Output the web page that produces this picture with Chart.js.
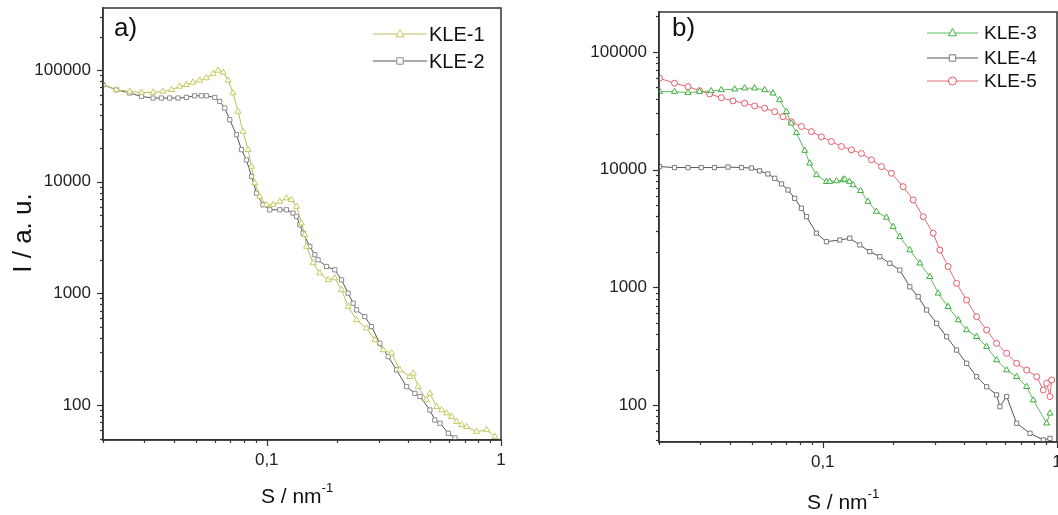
<!DOCTYPE html>
<html>
<head>
<meta charset="utf-8">
<script src="https://cdn.jsdelivr.net/npm/chart.js@4.4.1/dist/chart.umd.min.js"></script>
<style>
html, body { margin: 0; padding: 0; background: #fff; overflow: hidden; width: 1058px; height: 515px; }
#chartA { position: absolute; left: 0; top: 0; }
#chartB { position: absolute; left: 530px; top: 0; }
</style>
</head>
<body>
<canvas id="chartA" width="525" height="515"></canvas>
<canvas id="chartB" width="545" height="515"></canvas>
<script>
// ---- data: S in nm^-1, I in a.u. ----
const sKLE1 = [0.020,0.0228,0.0260,0.0292,0.0327,0.0360,0.0392,0.0425,0.0454,0.0484,0.0517,0.0552,0.0590,0.0619,0.0651,0.0684,0.0718,0.0754,0.0792,0.0832,0.0861,0.0889,0.0933,0.0997,0.1064,0.1137,0.1213,0.1275,0.1340,0.1406,0.1453,0.1478,0.1578,0.1684,0.1828,0.1953,0.2086,0.2225,0.2416,0.2667,0.2894,0.314,0.341,0.370,0.408,0.422,0.443,0.481,0.497,0.531,0.558,0.586,0.615,0.647,0.679,0.713,0.787,0.869,0.942];
const iKLE1 = [74100,66800,64500,63200,63200,64500,66800,71600,74100,77800,81100,85100,93100,99500,95500,81100,62500,42700,28200,19400,13700,9730,7380,6220,6220,6650,7140,6900,6000,4260,3350,2630,1870,1520,1320,1370,1075,762,578,487,383,311,291,206,179,192,146,111,127,96.5,90,84.3,78.5,70.8,66.2,63.8,57.6,59.7,52];

const sKLE2 = [0.020,0.0228,0.0260,0.0292,0.0327,0.0355,0.0385,0.0418,0.0454,0.0492,0.0526,0.0552,0.0600,0.0630,0.0662,0.0695,0.0743,0.0780,0.0819,0.0861,0.0904,0.0964,0.1030,0.1137,0.1213,0.1295,0.1340,0.1384,0.1430,0.1527,0.1604,0.1656,0.180,0.1953,0.2086,0.2225,0.2338,0.2416,0.2622,0.280,0.304,0.330,0.358,0.395,0.429,0.451,0.497,0.522,0.549,0.596,0.636];
const iKLE2 = [74100,66800,62500,58200,56300,56300,56300,56300,57000,59000,59000,59000,57000,52500,45800,36000,26400,19400,15700,11200,7920,6220,5610,5610,5610,5240,4890,4120,3470,2630,2220,2000,1740,1625,1320,1004,817,711,619,504,357,271,206,146,127,119,90,73.3,68.5,55.7,50.6];

const sKLE3 = [0.0201,0.0233,0.0266,0.0298,0.0334,0.0369,0.0421,0.0464,0.0512,0.0565,0.0613,0.0655,0.0700,0.0735,0.0772,0.0838,0.0880,0.0940,0.1037,0.1071,0.1145,0.1221,0.1241,0.1300,0.1346,0.1450,0.156,0.1695,0.187,0.1997,0.2133,0.2353,0.2598,0.2866,0.3111,0.3430,0.3787,0.4113,0.4537,0.5008,0.5521,0.6095,0.6726,0.7424,0.7925,0.9036,0.9332];
const iKLE3 = [45900,45900,45000,45900,46500,47500,48100,49100,49100,47500,44500,39000,31000,24700,20500,14500,11300,9000,7890,7900,8000,8160,8270,7900,7400,6600,5350,4400,3920,3270,2690,2070,1600,1230,889,684,527,434,380,313,241,198,174,143,110,70,85];

const sKLE4 = [0.0201,0.0233,0.0266,0.0303,0.0345,0.0394,0.0450,0.0496,0.0538,0.0583,0.0624,0.0667,0.0711,0.0759,0.0811,0.0852,0.0940,0.1037,0.1182,0.1304,0.1439,0.1588,0.1752,0.1933,0.2133,0.2353,0.2555,0.2775,0.3062,0.3378,0.3727,0.4113,0.4537,0.5008,0.5521,0.5705,0.6095,0.6726,0.7670,0.8737,0.9332];
const iKLE4 = [10600,10400,10400,10400,10400,10500,10400,10300,9750,9180,8430,7550,6710,5700,4690,3980,2880,2440,2520,2610,2290,2010,1820,1600,1400,1010,832,641,494,380,293,226,174,143,122,96.8,118,70,57.5,50.5,52];

const sKLE5 = [0.0201,0.0233,0.0266,0.0298,0.0329,0.0369,0.0414,0.0464,0.0512,0.0565,0.0624,0.0677,0.0735,0.0811,0.0895,0.0987,0.1089,0.1202,0.1326,0.1463,0.1615,0.1781,0.1966,0.2204,0.2432,0.2684,0.2961,0.3162,0.3430,0.3727,0.4113,0.4537,0.5008,0.5521,0.6095,0.6726,0.7424,0.8193,0.8737,0.9036,0.9332,0.9486];
const iKLE5 = [59700,54100,50600,46800,43900,40800,38300,36600,34700,33200,31000,28100,25500,23200,21000,19000,17300,15700,14700,13700,12100,10600,9300,7160,5520,3980,2880,2070,1500,1080,780,563,434,334,275,226,198,174,134,153,118,163];

const xTickLabels = { '0.1': '0,1', '1': '1' };
const yTickLabels = { '100': '100', '1000': '1000', '10000': '10000', '100000': '100000' };

const FONT = 'Liberation Sans, Arial, Helvetica, sans-serif';

function pts(s, v) { return s.map((x, i) => ({ x: x, y: v[i] })); }

function makeSet(label, s, v, lineCol, ptCol, style) {
  return {
    label: label,
    data: pts(s, v),
    borderColor: lineCol,
    borderWidth: 1,
    pointStyle: style,
    pointRadius: style === 'triangle' ? 3.5 : 3,
    pointBorderColor: ptCol,
    pointBackgroundColor: '#fff',
    pointBorderWidth: 1,
    tension: 0
  };
}

function isPow10(v) {
  const l = Math.log10(v);
  return Math.abs(l - Math.round(l)) < 1e-9;
}

function drawMarker(ctx, style, x, y, r) {
  ctx.beginPath();
  if (style === 'triangle') {
    ctx.moveTo(x, y - r * 1.1);
    ctx.lineTo(x + r, y + r * 0.7);
    ctx.lineTo(x - r, y + r * 0.7);
    ctx.closePath();
  } else if (style === 'rect') {
    ctx.rect(x - r * 0.8, y - r * 0.8, r * 1.6, r * 1.6);
  } else {
    ctx.arc(x, y, r, 0, Math.PI * 2);
  }
  ctx.fill();
  ctx.stroke();
}

// frame, log ticks, legend and texts
const decor = {
  id: 'decor',
  afterDraw(chart, args, o) {
    const ctx = chart.ctx, a = chart.chartArea;
    ctx.save();
    ctx.strokeStyle = '#333';
    ctx.lineWidth = 1.5;
    ctx.strokeRect(a.left, a.top, a.right - a.left, a.bottom - a.top);

    ctx.lineWidth = 1.2;
    ['x', 'y'].forEach(id => {
      const sc = chart.scales[id];
      const lo = Math.floor(Math.log10(sc.min)), hi = Math.ceil(Math.log10(sc.max));
      for (let e = lo; e <= hi; e++) {
        for (let m = 1; m <= 9; m++) {
          const v = m * Math.pow(10, e);
          if (v < sc.min * 0.999 || v > sc.max * 1.001) continue;
          const len = m === 1 ? 6 : 3;
          const p = Math.round(sc.getPixelForValue(v)) + 0.5;
          ctx.beginPath();
          if (id === 'x') { ctx.moveTo(p, a.bottom); ctx.lineTo(p, a.bottom + len); }
          else { ctx.moveTo(a.left, p); ctx.lineTo(a.left - len, p); }
          ctx.stroke();
        }
      }
    });

    // legend
    const L = o.legend;
    chart.data.datasets.forEach((ds, i) => {
      const y = L.rows[i];
      ctx.strokeStyle = ds.borderColor;
      ctx.lineWidth = 1;
      ctx.beginPath();
      ctx.moveTo(L.x1, y); ctx.lineTo(L.x2, y);
      ctx.stroke();
      ctx.fillStyle = '#fff';
      ctx.strokeStyle = ds.pointBorderColor;
      drawMarker(ctx, ds.pointStyle, (L.x1 + L.x2) / 2, y, 4);
      ctx.fillStyle = '#111';
      ctx.font = L.size + 'px ' + FONT;
      ctx.textAlign = 'left';
      ctx.textBaseline = 'middle';
      ctx.fillText(ds.label, L.tx, y + 1);
    });

    // panel letter
    ctx.fillStyle = '#111';
    ctx.font = '26px ' + FONT;
    ctx.textAlign = 'left';
    ctx.textBaseline = 'middle';
    ctx.fillText(o.letter.text, o.letter.x, o.letter.y);

    // x title with superscript
    ctx.font = '21px ' + FONT;
    const main = 'S / nm';
    const w1 = ctx.measureText(main).width;
    ctx.font = '13px ' + FONT;
    const w2 = ctx.measureText('-1').width;
    let x0 = o.xTitle.x - (w1 + w2) / 2;
    ctx.font = '21px ' + FONT;
    ctx.fillText(main, x0, o.xTitle.y);
    ctx.font = '13px ' + FONT;
    ctx.fillText('-1', x0 + w1, o.xTitle.y - 9);

    // y title
    if (o.yTitle) {
      ctx.translate(o.yTitle.x, o.yTitle.y);
      ctx.rotate(-Math.PI / 2);
      ctx.font = '26px ' + FONT;
      ctx.textAlign = 'center';
      ctx.fillText('I / a. u.', 0, 0);
    }
    ctx.restore();
  }
};

function makeOptions(xMin, xMax, yMin, yMax, yWidth, xHeight, pad, deco) {
  return {
    responsive: false,
    animation: false,
    layout: { padding: pad },
    plugins: { legend: { display: false }, tooltip: { enabled: false }, decor: deco },
    scales: {
      x: {
        type: 'logarithmic', min: xMin, max: xMax,
        grid: { display: true, drawOnChartArea: false, tickLength: 6, tickColor: 'rgba(0,0,0,0)' },
        border: { display: true, color: '#333', width: 1.5 },
        ticks: {
          autoSkip: false, maxRotation: 0, padding: 4, color: '#222',
          font: { family: FONT, size: 17 },
          callback: v => isPow10(v) ? (xTickLabels[String(+v.toPrecision(3))] || '') : ''
        },
        afterFit: s => { s.height = xHeight; s.paddingLeft = 0; s.paddingRight = 0; }
      },
      y: {
        type: 'logarithmic', min: yMin, max: yMax,
        grid: { display: true, drawOnChartArea: false, tickLength: 6, tickColor: 'rgba(0,0,0,0)' },
        border: { display: true, color: '#333', width: 1.5 },
        ticks: {
          autoSkip: false, padding: 6, color: '#222',
          font: { family: FONT, size: 17 },
          callback: v => isPow10(v) ? (yTickLabels[String(Math.round(v))] || '') : ''
        },
        afterFit: s => { s.width = yWidth; s.paddingTop = 0; s.paddingBottom = 0; }
      }
    }
  };
}

new Chart(document.getElementById('chartA'), {
  type: 'line',
  data: {
    datasets: [
      makeSet('KLE-1', sKLE1, iKLE1, '#bcbc5c', '#c8c860', 'triangle'),
      makeSet('KLE-2', sKLE2, iKLE2, '#555555', '#8c8c8c', 'rect')
    ]
  },
  options: makeOptions(0.02, 1, 48.5, 361000, 103, 75,
    { left: 0, top: 8, right: 24, bottom: 0 },
    {
      legend: { x1: 373, x2: 427, tx: 429, rows: [34, 61], size: 20 },
      letter: { text: 'a)', x: 114, y: 29 },
      xTitle: { x: 297, y: 497 },
      yTitle: { x: 24, y: 233 }
    }),
  plugins: [decor]
});

// canvas B runs past the window edge so the "1" label is cut like the reference
new Chart(document.getElementById('chartB'), {
  type: 'line',
  data: {
    datasets: [
      makeSet('KLE-3', sKLE3, iKLE3, '#5cbf5c', '#3fae3f', 'triangle'),
      makeSet('KLE-4', sKLE4, iKLE4, '#555555', '#7a7a7a', 'rect'),
      makeSet('KLE-5', sKLE5, iKLE5, '#e46a74', '#e85a66', 'circle')
    ]
  },
  options: makeOptions(0.02, 1, 48.5, 218000, 129, 73,
    { left: 0, top: 12, right: 18, bottom: 0 },
    {
      legend: { x1: 397, x2: 448, tx: 454, rows: [33, 58, 81], size: 19 },
      letter: { text: 'b)', x: 142, y: 29 },
      xTitle: { x: 313, y: 503 }
    }),
  plugins: [decor]
});
</script>
</body>
</html>
